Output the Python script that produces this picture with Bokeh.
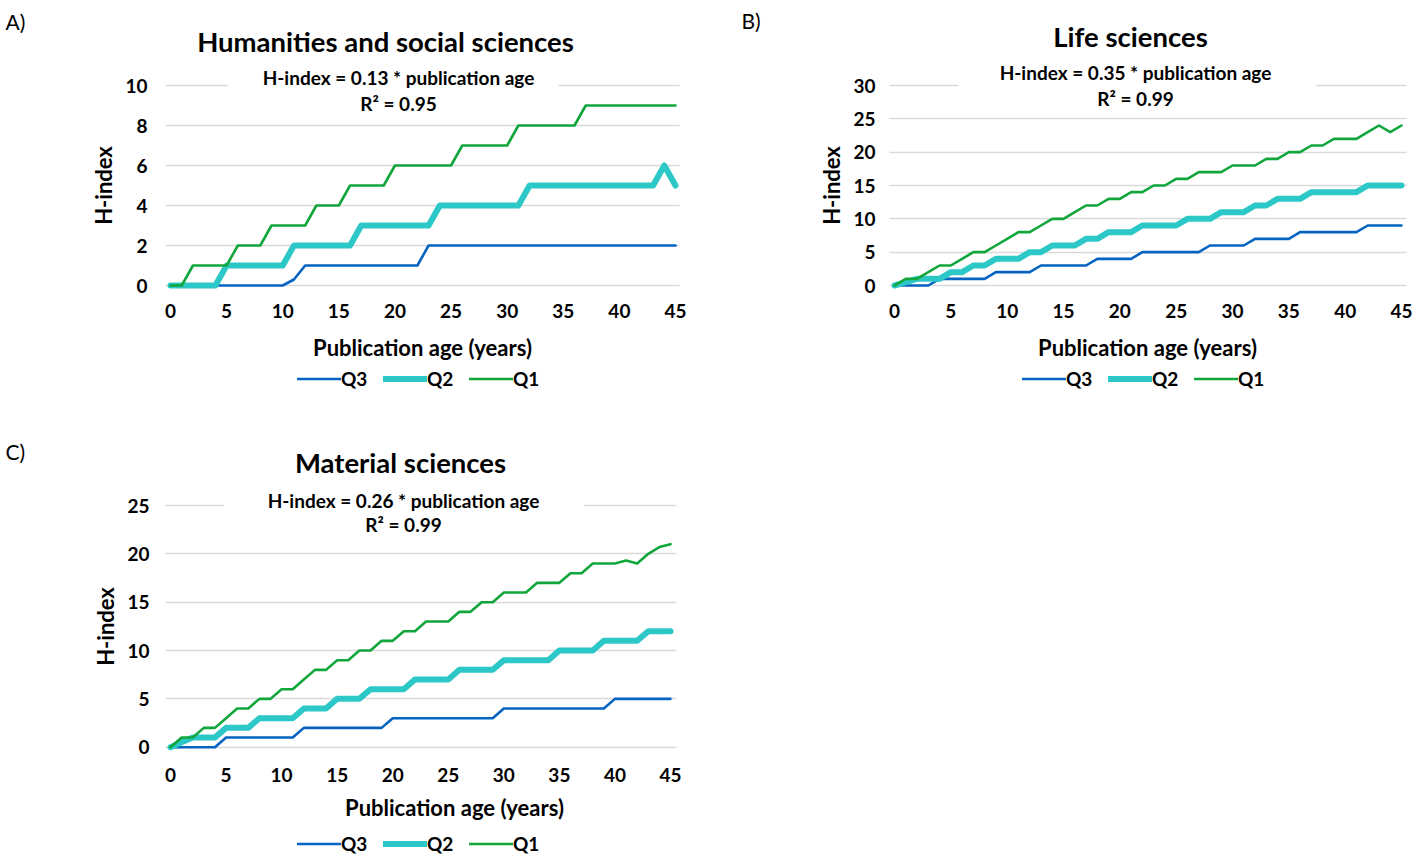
from bokeh.plotting import figure
from bokeh.models import Range1d, FixedTicker, Label, Legend, LegendItem, BoxAnnotation
from bokeh.layouts import column, row
from bokeh.embed import file_html
from bokeh.resources import INLINE

# ---------------- data ----------------
years = [0, 1, 2, 3, 4, 5, 6, 7, 8, 9, 10, 11, 12, 13, 14, 15, 16, 17, 18, 19, 20, 21, 22,
         23, 24, 25, 26, 27, 28, 29, 30, 31, 32, 33, 34, 35, 36, 37, 38, 39, 40, 41, 42, 43,
         44, 45]
x_ticks = [0, 5, 10, 15, 20, 25, 30, 35, 40, 45]
series_names = ["Q3", "Q2", "Q1"]

# A) Humanities and social sciences
hum_q3 = [0, 0, 0, 0, 0, 0, 0, 0, 0, 0, 0, 0.3, 1, 1, 1, 1, 1, 1, 1, 1, 1, 1, 1,
          2, 2, 2, 2, 2, 2, 2, 2, 2, 2, 2, 2, 2, 2, 2, 2, 2, 2, 2, 2, 2, 2, 2]
hum_q2 = [0, 0, 0, 0, 0, 1, 1, 1, 1, 1, 1, 2, 2, 2, 2, 2, 2, 3, 3, 3, 3, 3, 3,
          3, 4, 4, 4, 4, 4, 4, 4, 4, 5, 5, 5, 5, 5, 5, 5, 5, 5, 5, 5, 5, 6, 5]
hum_q1 = [0, 0, 1, 1, 1, 1, 2, 2, 2, 3, 3, 3, 3, 4, 4, 4, 5, 5, 5, 5, 6, 6, 6,
          6, 6, 6, 7, 7, 7, 7, 7, 8, 8, 8, 8, 8, 8, 9, 9, 9, 9, 9, 9, 9, 9, 9]
hum_yticks = [0, 2, 4, 6, 8, 10]

# B) Life sciences
life_q3 = [0, 0, 0, 0, 1, 1, 1, 1, 1, 2, 2, 2, 2, 3, 3, 3, 3, 3, 4, 4, 4, 4, 5,
           5, 5, 5, 5, 5, 6, 6, 6, 6, 7, 7, 7, 7, 8, 8, 8, 8, 8, 8, 9, 9, 9, 9]
life_q2 = [0, 0.5, 1, 1, 1, 2, 2, 3, 3, 4, 4, 4, 5, 5, 6, 6, 6, 7, 7, 8, 8, 8, 9,
           9, 9, 9, 10, 10, 10, 11, 11, 11, 12, 12, 13, 13, 13, 14, 14, 14, 14, 14, 15, 15, 15, 15]
life_q1 = [0, 1, 1, 2, 3, 3, 4, 5, 5, 6, 7, 8, 8, 9, 10, 10, 11, 12, 12, 13, 13, 14, 14,
           15, 15, 16, 16, 17, 17, 17, 18, 18, 18, 19, 19, 20, 20, 21, 21, 22, 22, 22, 23, 24, 23, 24]
life_yticks = [0, 5, 10, 15, 20, 25, 30]

# C) Material sciences
mat_q3 = [0, 0, 0, 0, 0, 1, 1, 1, 1, 1, 1, 1, 2, 2, 2, 2, 2, 2, 2, 2, 3, 3, 3,
          3, 3, 3, 3, 3, 3, 3, 4, 4, 4, 4, 4, 4, 4, 4, 4, 4, 5, 5, 5, 5, 5, 5]
mat_q2 = [0, 0.5, 1, 1, 1, 2, 2, 2, 3, 3, 3, 3, 4, 4, 4, 5, 5, 5, 6, 6, 6, 6, 7,
          7, 7, 7, 8, 8, 8, 8, 9, 9, 9, 9, 9, 10, 10, 10, 10, 11, 11, 11, 11, 12, 12, 12]
mat_q1 = [0, 1, 1, 2, 2, 3, 4, 4, 5, 5, 6, 6, 7, 8, 8, 9, 9, 10, 10, 11, 11, 12, 12,
          13, 13, 13, 14, 14, 15, 15, 16, 16, 16, 17, 17, 17, 18, 18, 19, 19, 19, 19.3, 19, 20, 20.7, 21]
mat_yticks = [0, 5, 10, 15, 20, 25]

# ---------------- style ----------------
FONT = "Lato"
COLORS = {"Q3": "#0563C1", "Q2": "#2CC7C7", "Q1": "#11A63B"}
WIDTHS = {"Q3": 2.6, "Q2": 6.0, "Q1": 2.6}
GRID = "#d9d9d9"
XTITLE = "Publication age (years)"
YTITLE = "H-index"


def panel(cfg, data, yticks, tag, title, eq, r2):
    ox, oy, W, H = cfg["fig"]                 # canvas position on the page (px)
    fl, ft, fr, fb = cfg["plot"]              # plot-area box on the page (px)
    x0, x45 = cfg["xpx"]
    y0, ytop_px, ytop_val = cfg["ypx"]
    sx = (x45 - x0) / 45.0
    sy = (y0 - ytop_px) / float(ytop_val)

    def X(px):
        return (px - x0) / sx

    def Y(py):
        return (y0 - py) / sy

    # the whole canvas is the frame, so no text is clipped; axes sit at fixed locations
    p = figure(width=W, height=H, output_backend="svg", toolbar_location=None,
               x_range=Range1d(X(ox), X(ox + W)), y_range=Range1d(Y(oy + H), Y(oy)),
               min_border_left=0, min_border_right=0, min_border_top=0, min_border_bottom=0)
    p.title.visible = False
    p.outline_line_color = None
    p.background_fill_color = "white"
    p.border_fill_color = "white"

    p.xgrid.visible = False
    p.ygrid.ticker = FixedTicker(ticks=yticks)
    p.ygrid.grid_line_color = GRID
    p.ygrid.grid_line_width = 1.6

    # keep the gridlines inside the plot area (mask the canvas outside it)
    for l, r in ((ox, fl), (fr, ox + W)):
        p.add_layout(BoxAnnotation(left=X(l), right=X(r), fill_color="white", fill_alpha=1,
                                   line_color=None, level="underlay"))

    for ax in (p.xaxis[0], p.yaxis[0]):
        ax.axis_line_color = None
        ax.major_tick_line_color = None
        ax.minor_tick_line_color = None
        ax.major_tick_in = 0
        ax.major_tick_out = 0
        ax.minor_tick_in = 0
        ax.minor_tick_out = 0
        ax.major_label_text_font = FONT
        ax.major_label_text_font_style = "bold"
        ax.major_label_text_font_size = "19px"
        ax.major_label_text_color = "black"
        ax.axis_label_text_font = FONT
        ax.axis_label_text_font_style = "bold"
        ax.axis_label_text_font_size = "22px"
        ax.axis_label_text_color = "black"
    p.xaxis.ticker = FixedTicker(ticks=x_ticks)
    p.yaxis.ticker = FixedTicker(ticks=yticks)
    p.yaxis.axis_label = YTITLE
    p.xaxis.fixed_location = Y(fb)
    p.yaxis.fixed_location = X(fl)
    p.xaxis.bounds = (X(fl), X(fr))
    p.yaxis.bounds = (Y(fb), Y(ft))
    p.xaxis.major_label_standoff = cfg["xstand"]
    p.yaxis.major_label_standoff = cfg["ystand"]
    p.yaxis.axis_label_standoff = 5

    xtx, xty = cfg["xtitle"]
    p.add_layout(Label(x=X(xtx), y=Y(xty), text=XTITLE, text_font=FONT, text_font_size="22px",
                       text_font_style="bold", text_align="center", text_baseline="middle",
                       text_color="black"))

    items = []
    for name, vals in zip(series_names, data):
        r = p.line(years, vals, line_color=COLORS[name], line_width=WIDTHS[name],
                   line_join="round", line_cap="round")
        items.append(LegendItem(label=name, renderers=[r]))

    lx, lyc = cfg["legend"]          # page px: left edge, vertical centre
    leg = Legend(items=items, orientation="horizontal",
                 location=(lx - ox, (oy + H) - (lyc + 9.5)),
                 border_line_color=None, background_fill_alpha=0,
                 label_text_font=FONT, label_text_font_style="bold",
                 label_text_font_size="19px", label_text_color="black",
                 glyph_width=44, glyph_height=19, label_height=19, label_width=32,
                 label_standoff=0, spacing=10, padding=0, margin=0)
    p.add_layout(leg)

    # white gap in the top gridline behind the equation box
    gl, gr, gy = cfg["gap"]
    p.add_layout(BoxAnnotation(left=X(gl), right=X(gr), bottom=Y(gy + 3), top=Y(gy - 3),
                               fill_color="white", fill_alpha=1, line_color=None,
                               level="underlay"))

    tx, ty = cfg["tag"]
    p.add_layout(Label(x=X(tx), y=Y(ty), text=tag, text_font=FONT, text_font_size="21px",
                       text_align="left", text_baseline="middle", text_color="black"))
    ttx, tty = cfg["title"]
    p.add_layout(Label(x=X(ttx), y=Y(tty), text=title, text_font=FONT, text_font_size="27.5px",
                       text_font_style="bold", text_align="center", text_baseline="middle",
                       text_color="black"))
    ex, ey1, ey2 = cfg["eq"]
    p.add_layout(Label(x=X(ex), y=Y(ey1), text=eq, text_font=FONT, text_font_size="19px",
                       text_font_style="bold", text_align="center", text_baseline="middle",
                       text_color="black"))
    p.add_layout(Label(x=X(ex), y=Y(ey2), text=r2, text_font=FONT, text_font_size="19px",
                       text_font_style="bold", text_align="center", text_baseline="middle",
                       text_color="black"))
    return p


cfgA = dict(fig=(0, 0, 728, 428), plot=(165, 79, 679, 291), xpx=(170, 675), ypx=(285, 85, 10),
            xtitle=(422, 347), xstand=12, ystand=18, legend=(297, 380),
            gap=(227, 558, 85), tag=(5, 21), title=(385, 41), eq=(398, 77, 103))
cfgB = dict(fig=(728, 0, 689, 428), plot=(889, 79, 1406, 291), xpx=(894, 1401), ypx=(285, 85, 30),
            xtitle=(1147, 347), xstand=12, ystand=14, legend=(1022, 380),
            gap=(958, 1316, 85), tag=(741, 20), title=(1130, 36), eq=(1135, 72, 98))
cfgC = dict(fig=(0, 428, 728, 431), plot=(165, 499, 676, 753), xpx=(170, 670), ypx=(746.7, 505, 25),
            xtitle=(454, 807), xstand=14, ystand=16, legend=(297, 845),
            gap=(224, 584, 505), tag=(5, 451), title=(400, 462), eq=(403, 500, 524))

pA = panel(cfgA, [hum_q3, hum_q2, hum_q1], hum_yticks, "A)", "Humanities and social sciences",
           "H-index = 0.13 * publication age", "R\u00b2 = 0.95")
pB = panel(cfgB, [life_q3, life_q2, life_q1], life_yticks, "B)", "Life sciences",
           "H-index = 0.35 * publication age", "R\u00b2 = 0.99")
pC = panel(cfgC, [mat_q3, mat_q2, mat_q1], mat_yticks, "C)", "Material sciences",
           "H-index = 0.26 * publication age", "R\u00b2 = 0.99")

layout = column(row(pA, pB, spacing=0), pC, spacing=0)
open("out.html", "w").write(file_html(layout, INLINE))
